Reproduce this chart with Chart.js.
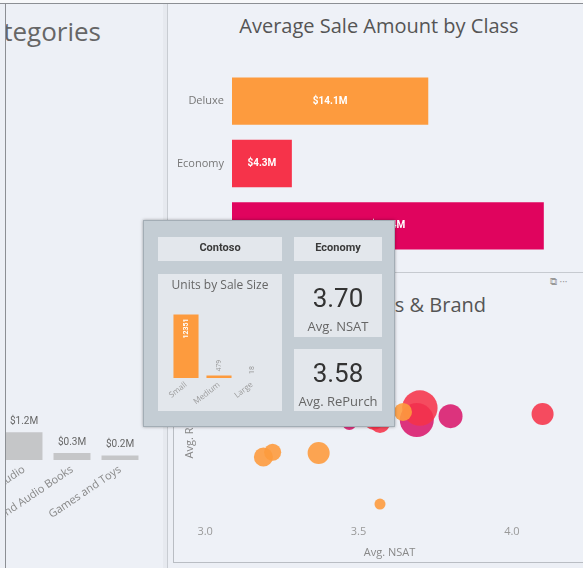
<!DOCTYPE html>
<html><head><meta charset="utf-8">
<script src="https://cdn.jsdelivr.net/npm/chart.js@4/dist/chart.umd.min.js"></script>
<style>
html,body{margin:0;padding:0;width:583px;height:568px;overflow:hidden;background:#eceff5;font-family:"Open Sans",sans-serif;}
.abs{position:absolute;}
.card{position:absolute;background:#e3e7ec;}
.ctr{position:absolute;left:0;right:0;text-align:center;white-space:nowrap;}
canvas{display:block;}
</style></head><body>
<script>
// ---------- DATA ----------
const catLabels = ["Audio", "Music, Movies and Audio Books", "Games and Toys"];
const catSales = [1.2, 0.3, 0.2];            // $M

const classLabels = ["Deluxe", "Economy", "Regular"];
const classAvgSale = [14.1, 4.3, 22.4];      // $M

const sizeLabels = ["Small", "Medium", "Large"];
const sizeUnits = [12351, 479, 18];

const nsatTicks = [3.0, 3.5, 4.0];

// bubble series: Avg. NSAT (x), Avg. RePurch (y), Sales (size)
const deluxeNSAT   = [3.19, 3.22, 3.37, 3.57, 3.645];
const deluxeRePur  = [3.417, 3.433, 3.43, 3.26, 3.567];
const deluxeSales  = [4.5, 3.6, 6.0, 1.5, 4.0];

const economyNSAT  = [3.55, 3.57, 3.70, 4.10];
const economyRePur = [3.54, 3.53, 3.58, 3.56];
const economySales = [4.9, 4.9, 15.5, 6.0];

const regularNSAT  = [3.47, 3.59, 3.69, 3.80];
const regularRePur = [3.53, 3.60, 3.54, 3.553];
const regularSales = [2.4, 4.0, 14.3, 7.1];

const tipBrand = "Contoso", tipClass = "Economy", tipNSAT = "3.70", tipRePurch = "3.58";
</script>

<div class="abs" style="left:0;top:0;width:583px;height:3px;background:#f7f8fa"></div>
<div class="abs" style="left:0;top:3px;width:583px;height:1px;background:#8c8f94"></div>
<div class="abs" style="left:5px;top:3px;width:1px;height:565px;background:#8c8f94"></div>

<!-- left panel -->
<div class="abs" style="left:6px;top:4px;width:157px;height:564px;overflow:hidden;background:#edf0f6">
  <div class="abs" style="right:62px;top:10px;font-size:26px;color:#666;white-space:nowrap;line-height:34px">Sales by Categories</div>
  <canvas id="cLeft" class="abs" width="150" height="140" style="left:-6px;top:376px"></canvas>
</div>
<div class="abs" style="left:163px;top:4px;width:4px;height:564px;background:#e6e9ef"></div>
<div class="abs" style="left:167px;top:4px;width:1px;height:564px;background:#c8ccd2"></div>

<!-- top right panel -->
<div class="abs" style="left:168px;top:4px;width:415px;height:268px;background:#eef1f7"></div>
<div class="abs" style="left:168px;top:12px;width:422px;text-align:center;font-size:20px;color:#555;white-space:nowrap;line-height:28px">Average Sale Amount by Class</div>
<canvas id="cTop" class="abs" width="415" height="187" style="left:168px;top:70px"></canvas>

<!-- bubble panel -->
<div class="abs" style="left:168px;top:272px;width:415px;height:1px;background:#c6cad0"></div>
<div class="abs" style="left:173px;top:273px;width:410px;height:289px;background:#eef1f7;border-left:1px solid #b9bdc3;border-bottom:1px solid #b9bdc3"></div>
<div class="abs" style="right:97px;top:291px;font-size:20px;color:#555;white-space:nowrap;line-height:28px">NSAT by Class &amp; Brand</div>
<div class="abs" style="left:550px;top:274px;font-size:10px;color:#999;white-space:nowrap">&#x29C9; &middot;&middot;&middot;</div>
<canvas id="cBub" class="abs" width="415" height="245" style="left:168px;top:320px"></canvas>

<!-- tooltip overlay -->
<div class="abs" style="left:143px;top:220px;width:250px;height:205px;background:#c4cdd4;border:1px solid #a3adb5;box-shadow:0 0 3px rgba(0,0,0,.35);z-index:10">
  <div class="card" style="left:14px;top:16px;width:124px;height:24px"><div class="ctr" id="tBrand" style="top:4px;font:700 11px Roboto,sans-serif;color:#3a3a3a"></div></div>
  <div class="card" style="left:150px;top:16px;width:88px;height:24px"><div class="ctr" id="tClass" style="top:4px;font:700 11px Roboto,sans-serif;color:#3a3a3a"></div></div>
  <div class="card" style="left:14px;top:53px;width:124px;height:137px">
    <div class="ctr" style="top:2px;font-size:12px;color:#666">Units by Sale Size</div>
  </div>
  <canvas id="cMini" class="abs" width="124" height="110" style="left:14px;top:80px"></canvas>
  <div class="card" style="left:150px;top:53px;width:88px;height:63px">
    <div class="ctr" id="tNSAT" style="top:9px;font:400 26px Roboto,sans-serif;color:#333"></div>
    <div class="ctr" style="top:43px;font-size:13px;color:#666">Avg. NSAT</div>
  </div>
  <div class="card" style="left:150px;top:128px;width:88px;height:62px">
    <div class="ctr" id="tRe" style="top:9px;font:400 26px Roboto,sans-serif;color:#333"></div>
    <div class="ctr" style="top:43px;font-size:13px;color:#666">Avg. RePurch</div>
  </div>
</div>

<script>
document.getElementById('tBrand').textContent = tipBrand;
document.getElementById('tClass').textContent = tipClass;
document.getElementById('tNSAT').textContent = tipNSAT;
document.getElementById('tRe').textContent = tipRePurch;

Chart.defaults.font.family = "'Open Sans', sans-serif";
Chart.defaults.animation = false;
Chart.defaults.plugins.legend.display = false;
Chart.defaults.plugins.tooltip.enabled = false;

const ORANGE = '#fd9b3e', RED = '#f6334a', MAG = '#e0045e';
const money = v => '$' + v.toFixed(1) + 'M';
const noPad = s => { s.paddingLeft = 0; s.paddingRight = 0; s.paddingTop = 0; s.paddingBottom = 0; };

// left chart
new Chart(document.getElementById('cLeft'), {
  type: 'bar',
  data: { labels: catLabels, datasets: [{ data: catSales, backgroundColor: '#c5c6c8', categoryPercentage: 1, barPercentage: 0.77 }] },
  options: {
    responsive: false,
    layout: { autoPadding: false, padding: { top: 20, left: 0, right: 6, bottom: 0 } },
    scales: {
      x: { grid: { display: false, drawTicks: false }, border: { display: false },
           ticks: { autoSkip: false, minRotation: 34, maxRotation: 34, padding: 3, color: '#888', font: { size: 11 } },
           afterFit: s => { s.height = 60; noPad(s); } },
      y: { display: false, min: 0, max: 2.6 }
    }
  },
  plugins: [{ id: 'lbl', afterDatasetsDraw(c) {
    const ctx = c.ctx; ctx.save(); ctx.font = "10px Roboto, sans-serif"; ctx.fillStyle = '#666'; ctx.textAlign = 'center'; ctx.textBaseline = 'bottom';
    c.getDatasetMeta(0).data.forEach((b, i) => ctx.fillText(money(catSales[i]), b.x, b.y - 6));
    ctx.restore(); } }]
});

// top horizontal bar
new Chart(document.getElementById('cTop'), {
  type: 'bar',
  data: { labels: classLabels, datasets: [{ data: classAvgSale, backgroundColor: [ORANGE, RED, MAG], categoryPercentage: 1, barPercentage: 0.76 }] },
  options: {
    indexAxis: 'y', responsive: false,
    layout: { autoPadding: false, padding: { top: 0, left: 0, right: 3, bottom: 0 } },
    scales: {
      x: { display: false, min: 0, max: 25 },
      y: { grid: { display: false, drawTicks: false }, border: { display: false },
           ticks: { padding: 8, color: '#777', font: { size: 11 } },
           afterFit: s => { s.width = 64; noPad(s); } }
    }
  },
  plugins: [{ id: 'lbl', afterDatasetsDraw(c) {
    const ctx = c.ctx; ctx.save(); ctx.font = "bold 10px Roboto, sans-serif"; ctx.fillStyle = '#fff'; ctx.textAlign = 'center'; ctx.textBaseline = 'middle';
    c.getDatasetMeta(0).data.forEach((b, i) => ctx.fillText(money(classAvgSale[i]), (b.base + b.x) / 2, b.y));
    ctx.restore(); } }]
});

// bubble chart
const rad = s => 4.5 * Math.sqrt(s);
const pts = (xs, ys, ss) => xs.map((x, i) => ({ x: x, y: ys[i], r: rad(ss[i]) }));
new Chart(document.getElementById('cBub'), {
  type: 'bubble',
  data: { datasets: [
    { label: 'Deluxe', data: pts(deluxeNSAT, deluxeRePur, deluxeSales), backgroundColor: 'rgba(253,155,62,0.9)', borderWidth: 0, order: 0 },
    { label: 'Economy', data: pts(economyNSAT, economyRePur, economySales), backgroundColor: 'rgba(246,51,74,0.88)', borderWidth: 0, order: 1 },
    { label: 'Regular', data: pts(regularNSAT, regularRePur, regularSales), backgroundColor: 'rgba(218,24,108,0.88)', borderWidth: 0, order: 2 }
  ] },
  options: {
    responsive: false,
    layout: { autoPadding: false, padding: { top: 10, left: 0, right: 3, bottom: 0 } },
    scales: {
      x: { type: 'linear', min: 2.98, max: 4.222,
           grid: { display: false, drawTicks: false }, border: { display: false },
           afterBuildTicks: s => { s.ticks = nsatTicks.map(v => ({ value: v })); },
           ticks: { padding: 5, color: '#999', font: { size: 11 }, callback: v => Number(v).toFixed(1) },
           title: { display: true, text: 'Avg. NSAT', color: '#888', font: { size: 11 }, padding: { top: 2, bottom: 6 } },
           afterFit: s => { s.height = 45; noPad(s); } },
      y: { type: 'linear', min: 3.207, max: 3.84,
           grid: { display: false, drawTicks: false }, border: { display: false },
           ticks: { display: false },
           title: { display: true, text: 'Avg. RePurch', color: '#888', font: { size: 11 }, padding: { top: 15, bottom: 0 } },
           afterFit: s => { s.width = 31; noPad(s); } }
    }
  }
});

// mini chart in tooltip
new Chart(document.getElementById('cMini'), {
  type: 'bar',
  data: { labels: sizeLabels, datasets: [{ data: sizeUnits, backgroundColor: ORANGE, categoryPercentage: 1, barPercentage: 0.76 }] },
  options: {
    responsive: false,
    layout: { autoPadding: false, padding: { top: 5, left: 11.5, right: 13.5, bottom: 0 } },
    scales: {
      x: { grid: { display: false, drawTicks: false }, border: { display: false },
           ticks: { autoSkip: false, minRotation: 38, maxRotation: 38, padding: 2, color: '#999', font: { size: 8 } },
           afterFit: s => { s.height = 33; noPad(s); } },
      y: { display: false, min: 0, max: 14000 }
    }
  },
  plugins: [{ id: 'lbl', afterDatasetsDraw(c) {
    const ctx = c.ctx; ctx.save();
    c.getDatasetMeta(0).data.forEach((b, i) => {
      const t = String(sizeUnits[i]);
      ctx.save();
      const inside = (b.base - b.y) > 30;
      ctx.translate(b.x, inside ? b.y + 4 : b.y - 4);
      ctx.rotate(-Math.PI / 2);
      ctx.font = (inside ? 'bold ' : '') + "7px Roboto, sans-serif";
      ctx.fillStyle = inside ? '#fff' : '#999';
      ctx.textAlign = inside ? 'right' : 'left'; ctx.textBaseline = 'middle';
      ctx.fillText(t, 0, 0);
      ctx.restore();
    });
    ctx.restore(); } }]
});
</script>
</body></html>
